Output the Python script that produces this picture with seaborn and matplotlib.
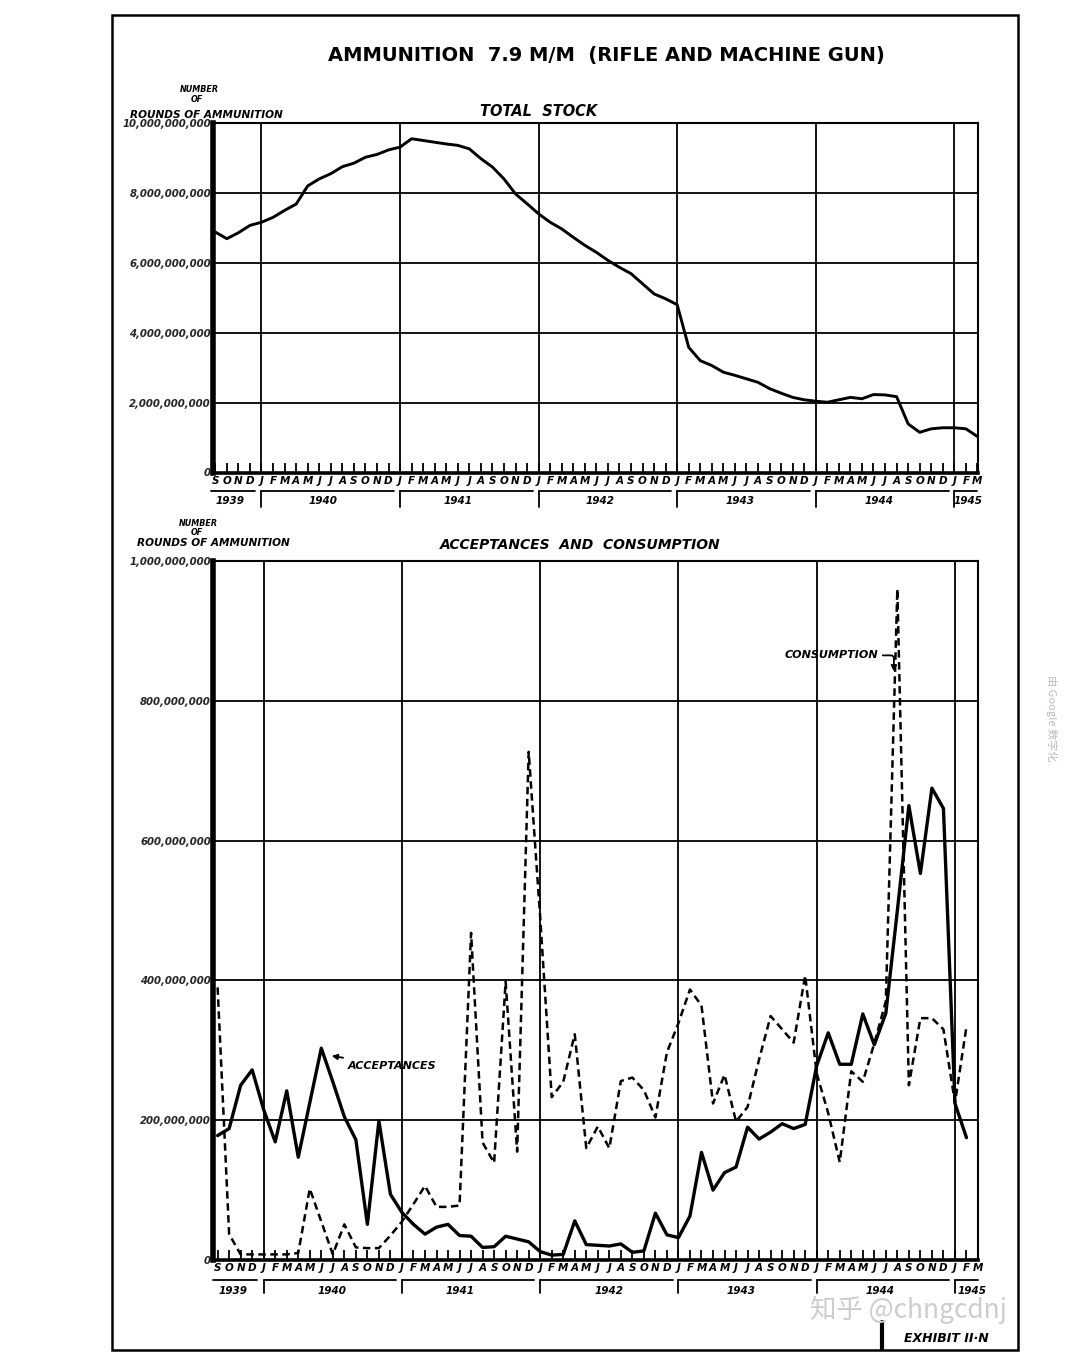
import numpy as np
import pandas as pd
import matplotlib
matplotlib.use("Agg")
import matplotlib.pyplot as plt
import seaborn as sns
from matplotlib.patches import Rectangle
from matplotlib.lines import Line2D
from matplotlib.transforms import blended_transform_factory

# ---------------- data ----------------
month_letters = list("SOND") + list("JFMAMJJASOND") * 5 + list("JFM")
year_labels = ["1939", "1940", "1941", "1942", "1943", "1944", "1945"]

# total stock, billions of rounds, Sep 1939 .. Mar 1945
total_stock_bn = [6.88, 6.69, 6.86, 7.07, 7.16, 7.30, 7.50, 7.68, 8.20, 8.40,
                  8.55, 8.75, 8.85, 9.02, 9.10, 9.23, 9.31, 9.55, 9.50, 9.45,
                  9.40, 9.36, 9.26, 8.98, 8.74, 8.40, 7.97, 7.69, 7.40, 7.16,
                  6.97, 6.73, 6.50, 6.30, 6.07, 5.87, 5.69, 5.40, 5.11, 4.97,
                  4.80, 3.58, 3.20, 3.06, 2.87, 2.78, 2.68, 2.58, 2.40, 2.27,
                  2.15, 2.08, 2.04, 2.01, 2.08, 2.15, 2.11, 2.23, 2.22, 2.17,
                  1.39, 1.15, 1.25, 1.28, 1.28, 1.25, 1.03]

# acceptances and consumption, millions of rounds, Sep 1939 .. Feb 1945
acceptances_mn = [178, 188, 250, 272, 215, 169, 242, 147, 225, 303,
                  255, 205, 172, 51, 199, 94, 68, 51, 37, 47,
                  51, 35, 34, 18, 19, 34, 30, 26, 12, 7,
                  8, 56, 22, 21, 20, 23, 11, 13, 67, 36,
                  32, 63, 154, 100, 125, 133, 190, 173, 183, 195,
                  188, 194, 278, 325, 280, 280, 352, 308, 353, 500,
                  650, 553, 675, 646, 224, 175]
consumption_mn = [390, 37, 8, 8, 8, 8, 8, 10, 102, 55,
                  8, 51, 18, 17, 17, 35, 55, 80, 106, 76,
                  76, 78, 468, 168, 139, 398, 155, 727, 490, 233,
                  255, 323, 160, 191, 160, 256, 261, 243, 204, 297,
                  339, 387, 364, 224, 265, 198, 219, 287, 349, 330,
                  311, 407, 267, 210, 140, 270, 255, 310, 370, 960,
                  250, 346, 346, 330, 225, 334]

stock_ticks = [0, 2e9, 4e9, 6e9, 8e9, 10e9]
stock_tick_labels = ["0", "2,000,000,000", "4,000,000,000", "6,000,000,000",
                     "8,000,000,000", "10,000,000,000"]
flow_ticks = [0, 2e8, 4e8, 6e8, 8e8, 1e9]
flow_tick_labels = ["0", "200,000,000", "400,000,000", "600,000,000",
                    "800,000,000", "1,000,000,000"]

top_df = pd.DataFrame({"month": np.arange(len(total_stock_bn)),
                       "stock": np.array(total_stock_bn) * 1e9})
bot_df = pd.DataFrame({"month": np.arange(len(acceptances_mn)),
                       "acceptances": np.array(acceptances_mn) * 1e6,
                       "consumption": np.array(consumption_mn) * 1e6})

# ---------------- style ----------------
sns.set_theme(style="white")
plt.rcParams["font.family"] = ["DejaVu Sans", "Noto Sans CJK SC"]
plt.rcParams["axes.facecolor"] = "white"

W, H = 1066, 1365
fig = plt.figure(figsize=(W / 100, H / 100), dpi=100)
fig.patch.set_facecolor("white")


def fx(px):
    return px / W


def fy(py):
    return 1 - py / H


def ftext(xp, yp, s, **kw):
    fig.text(fx(xp), fy(yp), s, **kw)


lab = dict(fontweight="bold", fontstyle="italic", color="black")

# outer border
fig.add_artist(Rectangle((fx(112), fy(1350)), fx(1018) - fx(112), fy(15) - fy(1350),
                         transform=fig.transFigure, fill=False, lw=1.8, ec="black"))

ftext(606, 55, "AMMUNITION  7.9 M/M  (RIFLE AND MACHINE GUN)", ha="center",
      va="center", fontsize=14, fontweight="bold", color="black")

jan_positions = [4, 16, 28, 40, 52, 64]


def style_axis(ax, yticks, ylabels, year_x, bracket_frac, tickend_frac, year_frac):
    ax.set_xticks(range(len(month_letters)))
    ax.set_xticklabels(month_letters, fontsize=7.5, fontweight="bold", fontstyle="italic")
    ax.tick_params(axis="x", direction="in", length=7, width=1.3, pad=2.5,
                   bottom=True, top=False, colors="black")
    ax.set_yticks(yticks)
    ax.set_yticklabels(ylabels, fontsize=7.3, fontweight="bold", fontstyle="italic")
    ax.tick_params(axis="y", length=0, pad=1.5, left=False)
    for y in yticks[1:-1]:
        ax.axhline(y, color="black", lw=1.3, zorder=1)
    for x in jan_positions:
        ax.axvline(x, color="black", lw=1.3, zorder=1)
    for side, w in (("left", 4.0), ("bottom", 2.6), ("top", 1.5), ("right", 1.5)):
        ax.spines[side].set_visible(True)
        ax.spines[side].set_color("black")
        ax.spines[side].set_linewidth(w)
    ax.grid(False)
    ax.set_xlabel("")
    ax.set_ylabel("")
    tr = blended_transform_factory(ax.transData, ax.transAxes)
    # year brackets
    spans = [(-0.4, 3.4, False)] + [(j, j + 11.5, True) for j in jan_positions[:-1]] + [(64, 66, True)]
    for (a, b, tick), yl, xl in zip(spans, year_labels, year_x):
        ax.add_line(Line2D([a, b], [bracket_frac, bracket_frac], transform=tr,
                           color="black", lw=1.3, clip_on=False))
        if tick:
            ax.add_line(Line2D([a, a], [bracket_frac, tickend_frac], transform=tr,
                               color="black", lw=1.3, clip_on=False))
        ax.text(xl, year_frac, yl, transform=tr, ha="center", va="center",
                fontsize=7.5, **lab)


# ---------------- top panel ----------------
ax1 = fig.add_axes([fx(213), fy(472.5), fx(978) - fx(213), fy(123) - fy(472.5)])
sns.lineplot(data=top_df, x="month", y="stock", ax=ax1, color="black", lw=2.1,
             zorder=3, legend=False)
ax1.set_xlim(-0.2, 66.05)
ax1.set_ylim(0, 10e9)
hpx1 = 472.5 - 123
style_axis(ax1, stock_ticks, stock_tick_labels,
           [1.3, 9.3, 21.0, 33.3, 45.4, 57.5, 65.2],
           -18 / hpx1, -34 / hpx1, -29 / hpx1)

ftext(539, 112, "TOTAL  STOCK", ha="center", va="center", fontsize=10.5, **lab)
ftext(199, 89, "NUMBER", ha="center", va="center", fontsize=5.8, **lab)
ftext(197, 100, "OF", ha="center", va="center", fontsize=5.8, **lab)
ftext(206, 115, "ROUNDS OF AMMUNITION", ha="center", va="center", fontsize=7.6, **lab)

# ---------------- bottom panel ----------------
ax2 = fig.add_axes([fx(213), fy(1260), fx(978) - fx(213), fy(561) - fy(1260)])
sns.lineplot(data=bot_df, x="month", y="acceptances", ax=ax2, color="black",
             lw=2.4, zorder=3, legend=False)
sns.lineplot(data=bot_df, x="month", y="consumption", ax=ax2, color="black",
             lw=1.8, zorder=3, legend=False, linestyle=(0, (3.0, 1.8)))
ax2.set_xlim(-0.4, 66.0)
ax2.set_ylim(0, 1e9)
hpx2 = 1260 - 561
style_axis(ax2, flow_ticks, flow_tick_labels,
           [1.3, 9.9, 21.0, 34.0, 45.4, 57.5, 65.5],
           -20 / hpx2, -33 / hpx2, -31 / hpx2)

ftext(580, 545, "ACCEPTANCES  AND  CONSUMPTION", ha="center", va="center",
      fontsize=10, **lab)
ftext(198, 523, "NUMBER", ha="center", va="center", fontsize=5.8, **lab)
ftext(197, 533, "OF", ha="center", va="center", fontsize=5.8, **lab)
ftext(213, 543, "ROUNDS OF AMMUNITION", ha="center", va="center", fontsize=7.6, **lab)

ax2.annotate("ACCEPTANCES", xy=(9.9, 292e6), xytext=(11.3, 278e6),
             ha="left", va="center", fontsize=8, zorder=5,
             arrowprops=dict(arrowstyle="-|>", color="black", lw=1.3,
                             shrinkA=1, shrinkB=0, mutation_scale=8), **lab)
ax2.annotate("CONSUMPTION", xy=(58.7, 842e6), xytext=(49.2, 865e6),
             ha="left", va="center", fontsize=8, zorder=5,
             arrowprops=dict(arrowstyle="-|>", color="black", lw=1.3,
                             connectionstyle="angle,angleA=0,angleB=90,rad=3",
                             shrinkA=1, shrinkB=0, mutation_scale=8), **lab)

# exhibit tag
fig.add_artist(Line2D([fx(882), fx(882)], [fy(1322), fy(1349)], transform=fig.transFigure,
                      color="black", lw=3))
ftext(946, 1338, "EXHIBIT II·N", ha="center", va="center", fontsize=9, **lab)

# scan watermarks
ftext(908, 1310, "知乎 @chngcdnj", ha="center", va="center", fontsize=19,
      color="#cdcdcd", family=["Noto Sans CJK SC", "DejaVu Sans"], zorder=10)
ftext(1052, 718, "由 Google 数字化", ha="center", va="center", fontsize=8,
      rotation=270, color="#bdbdbd", family=["Noto Sans CJK SC", "DejaVu Sans"])

fig.savefig("out.png", dpi=100, facecolor="white")
